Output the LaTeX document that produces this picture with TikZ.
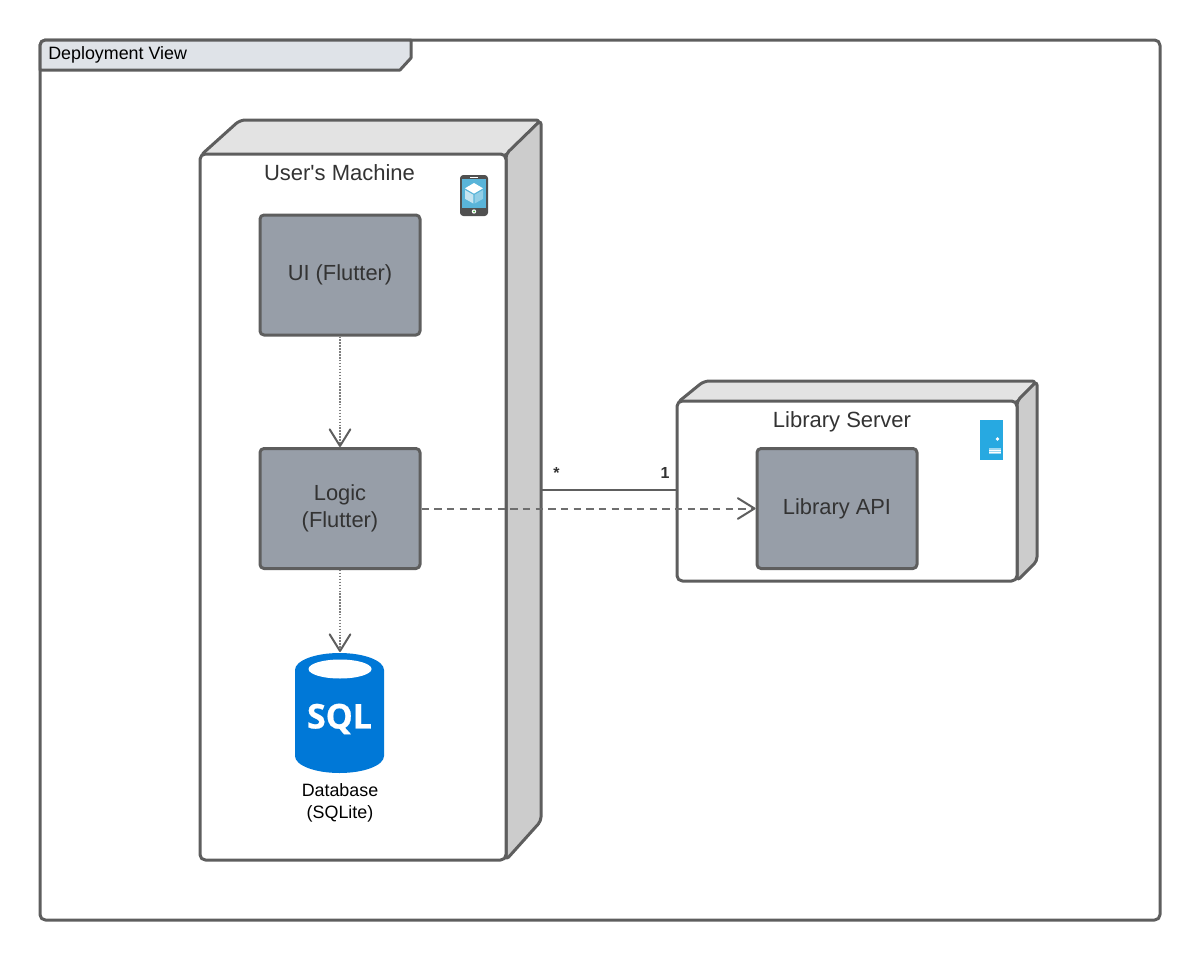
\documentclass[tikz,border=0pt]{standalone}
\usepackage{fontspec}
\setmainfont{Liberation Sans}
\newfontfamily\sqlfont[BoldFeatures={FakeBold=0.7}]{Open Sans}
\usetikzlibrary{arrows.meta}
\definecolor{ln}{HTML}{5E5E5E}
\definecolor{tabf}{HTML}{DFE3E8}
\definecolor{topf}{HTML}{E3E3E3}
\definecolor{sidef}{HTML}{CCCCCC}
\definecolor{boxf}{HTML}{979EA8}
\definecolor{txt}{HTML}{333333}
\definecolor{sqlb}{HTML}{0078D7}
\definecolor{scr}{HTML}{59B4D9}
\definecolor{srv}{HTML}{27A9E1}
\tikzset{
  x=0.75pt,y=-0.75pt,
  outline/.style={draw=ln,line width=2.25pt,line join=round},
  compbox/.style={outline,fill=boxf,rounded corners=3pt,minimum width=120pt,minimum height=90pt,align=center,text=txt,font=\fontsize{16.4}{20.5}\selectfont,inner sep=0pt},
  nodetitle/.style={text=txt,font=\fontsize{16.5}{20}\selectfont,inner sep=0pt},
  smalltext/.style={text=black,font=\fontsize{13.4}{16.5}\selectfont,inner sep=0pt,align=center},
  mult/.style={text=txt,font=\bfseries\fontsize{12}{14}\selectfont,inner sep=0pt},
  opentip/.style={-{Straight Barb[length=12.5pt,width=15.5pt,line width=1.5pt,round,color=ln]}},
  depdot/.style={draw=ln!80,line width=1.4pt,dash pattern=on 1.1pt off 1.1pt,opentip},
  depdash/.style={draw=ln!90,line width=1.5pt,dash pattern=on 5.5pt off 4pt,opentip},
  assoc/.style={draw=ln,line width=1.7pt},
}
\begin{document}
\begin{tikzpicture}
\useasboundingbox (0,0) rectangle (1200,960);
\fill[white] (0,0) rectangle (1200,960);
% frame
\draw[outline,fill=white,rounded corners=4pt] (40,40) rectangle (1160,920);
\draw[outline,fill=tabf] (40,70) [rounded corners=4pt] -- (40,40) [sharp corners] -- (411,40) -- (411,58) -- (400,70) -- cycle;
\node[anchor=west,text=black,font=\fontsize{13.4}{16}\selectfont,inner sep=0pt] (frametitle) at (48,55) {Deployment View};
% user's machine
\draw[outline,fill=topf,rounded corners=4pt] (200,156) -- (240,120) -- (541,120) -- (506,156) -- cycle;
\draw[outline,fill=sidef,rounded corners=3pt] (506,154) -- (541,120) -- (541,821) -- (506,860) -- cycle;
\draw[outline,fill=white,rounded corners=4pt] (200,154) rectangle (506,860);
\node[nodetitle] (umtitle) at (339.5,172.5) {User\textquotesingle s Machine};
\coordinate (umside) at (541,490);
% phone icon
\fill[rounded corners=2.5pt,fill=ln!85!black] (460,175) rectangle (488,216);
\fill[scr] (462.3,179) rectangle (485.7,208);
\fill[white] (470,177) rectangle (478,178.3);
\fill[white] (474,211.5) circle (2.2);
\fill[green!60!black!70] (474,211.5) circle (1);
\fill[white] (474,183) -- (483,188.3) -- (474,193.6) -- (465,188.3) -- cycle;
\fill[white,opacity=.65] (465,190) -- (473.3,194.8) -- (473.3,203.5) -- (465,198.8) -- cycle;
\fill[white,opacity=.35] (483,190) -- (474.7,194.8) -- (474.7,203.5) -- (483,198.8) -- cycle;
% inner boxes
\node[compbox] (ui) at (340,275) {UI (Flutter)};
\node[compbox] (logic) at (340,508.5) {Logic\\(Flutter)};
% database
\fill[sqlb] (295,670) arc[start angle=180,end angle=360,x radius=44.5,y radius=17] -- (384,756) arc[start angle=0,end angle=180,x radius=44.5,y radius=17] -- cycle;
\fill[white] (340,669) ellipse [x radius=31.5,y radius=9.5];
\node[text=white,font=\sqlfont\bfseries\fontsize{25.5}{30}\selectfont,inner sep=0pt] (sql) at (339.5,719) {SQL};
\node[smalltext] (dblabel) at (340,803) {Database\\(SQLite)};
\coordinate (dbtop) at (340,652);
% library server
\draw[outline,fill=topf,rounded corners=4pt] (677,403) -- (704,381) -- (1037,381) -- (1017,403) -- cycle;
\draw[outline,fill=sidef,rounded corners=3pt] (1017,401) -- (1037,381) -- (1037,561) -- (1017,581) -- cycle;
\draw[outline,fill=white,rounded corners=4pt] (677,401) rectangle (1017,581);
\node[nodetitle] (lstitle) at (842,421.5) {Library Server};
\coordinate (lsside) at (677,490);
% server icon
\fill[srv] (980,420) rectangle (1003,460);
\fill[white] (997.5,439) circle (1.8);
\fill[white!55!srv] (988.5,447.7) rectangle (1001,454.3);
\fill[white] (988.5,449.6) rectangle (1001,450.5);
\fill[white] (988.5,452) rectangle (1001,452.8);
\node[compbox] (api) at (837,508.5) {Library API};
% connectors
\draw[depdot] (ui.south) -- (logic.north);
\draw[depdot] (logic.south) -- (dbtop);
\draw[depdash] (logic.east) -- (api.west);
\draw[assoc] (umside) -- (lsside);
\node[mult] (mstar) at (556.5,473) {*};
\node[mult] (mone) at (665,473) {1};
\end{tikzpicture}
\end{document}
